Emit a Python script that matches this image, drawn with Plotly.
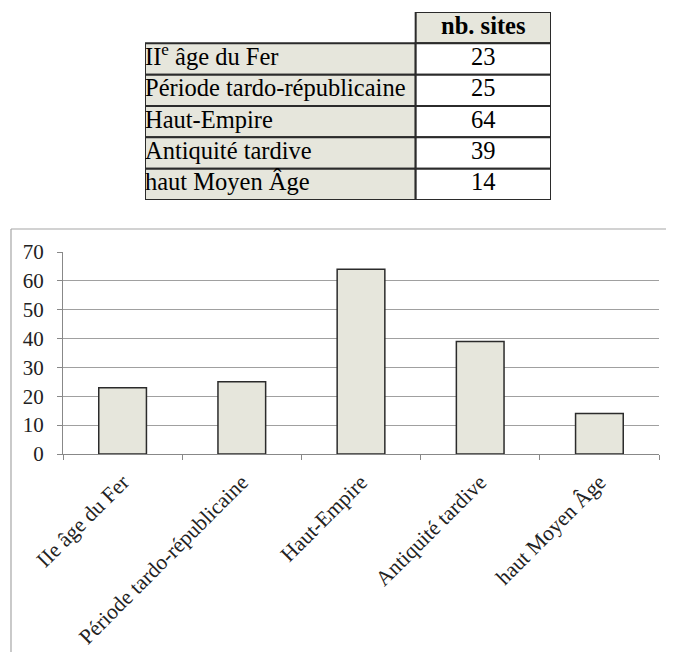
import plotly.graph_objects as go

categories_table = ["II<sup>e</sup> âge du Fer", "Période tardo-républicaine", "Haut-Empire",
                    "Antiquité tardive", "haut Moyen Âge"]
categories_axis = ["IIe âge du Fer", "Période tardo-républicaine", "Haut-Empire",
                   "Antiquité tardive", "haut Moyen Âge"]
nb_sites = [23, 25, 64, 39, 14]
header_label = "nb. sites"
y_ticks = [0, 10, 20, 30, 40, 50, 60, 70]

# page offset (browser body margin)
OFF = 8
W, H = 674 - OFF, 652 - OFF
FILL = "#e6e6dc"
EDGE = "#2b2b2b"
SERIF = "Liberation Serif"


def px(x):
    return (x - OFF) / W


def py(y):
    return 1 - (y - OFF) / H


fig = go.Figure()

# ---------------- Table (drawn on its own hidden axes) ----------------
rows = list(range(1, len(categories_table) + 1))
LABEL_W, VALUE_W = 2, 1

# label column cells
fig.add_trace(go.Bar(
    orientation="h", y=rows, x=[LABEL_W] * len(rows), base=0, width=1,
    marker=dict(color=FILL, line=dict(color=EDGE, width=2)),
    xaxis="x2", yaxis="y2", hoverinfo="skip",
))
# value column cells (header + values)
fig.add_trace(go.Bar(
    orientation="h", y=[0] + rows, x=[VALUE_W] * (len(rows) + 1), base=LABEL_W, width=1,
    marker=dict(color=[FILL] + ["white"] * len(rows), line=dict(color=EDGE, width=2)),
    xaxis="x2", yaxis="y2", hoverinfo="skip",
))
# texts
fig.add_trace(go.Scatter(
    x=[0] * len(rows), y=rows, mode="text", text=categories_table,
    textposition="middle right",
    textfont=dict(family=SERIF, size=24.5, color="black"),
    xaxis="x2", yaxis="y2", hoverinfo="skip",
))
fig.add_trace(go.Scatter(
    x=[LABEL_W + VALUE_W / 2] * (len(rows) + 1), y=[0] + rows, mode="text",
    text=["<b>" + header_label + "</b>"] + [str(v) for v in nb_sites],
    textposition="middle center",
    textfont=dict(family=SERIF, size=24.5, color="black"),
    xaxis="x2", yaxis="y2", hoverinfo="skip",
))

# ---------------- Bar chart ----------------
fig.add_trace(go.Bar(
    x=categories_axis, y=nb_sites,
    marker=dict(color=FILL, line=dict(color=EDGE, width=1.5)),
    width=0.4,
    hoverinfo="x+y",
))

# chart frame (top and left edges)
fig.add_shape(type="line", xref="paper", yref="paper",
              x0=px(11), x1=1.0, y0=py(229), y1=py(229),
              line=dict(color="#a6a6a6", width=1.2))
fig.add_shape(type="line", xref="paper", yref="paper",
              x0=px(11), x1=px(11), y0=0, y1=py(229),
              line=dict(color="#a6a6a6", width=1.2))

fig.update_layout(
    width=W, height=H,
    margin=dict(l=0, r=0, t=0, b=0),
    paper_bgcolor="white", plot_bgcolor="white",
    showlegend=False,
    barmode="overlay",
    font=dict(family=SERIF, color="#222"),
    xaxis=dict(
        domain=[px(63), px(659)],
        type="category",
        tickson="boundaries",
        ticks="outside", ticklen=5, tickcolor="#888",
        showline=True, linecolor="#888", linewidth=1.2,
        showgrid=False,
        tickangle=-45,
        tickfont=dict(family=SERIF, size=21.5, color="#222"),
        ticklabelstandoff=6,
        automargin=False,
        fixedrange=True,
    ),
    yaxis=dict(
        domain=[py(454), py(252)],
        range=[0, 70], tickvals=y_ticks,
        ticks="outside", ticklen=5, tickcolor="#888",
        showline=True, linecolor="#888", linewidth=1.2,
        showgrid=True, gridcolor="#a0a0a0", gridwidth=1.2,
        zeroline=False,
        tickfont=dict(family=SERIF, size=21, color="#222"),
        ticklabelstandoff=9,
        automargin=False,
        fixedrange=True,
    ),
    xaxis2=dict(
        domain=[px(145), px(551)], range=[0, LABEL_W + VALUE_W],
        visible=False, fixedrange=True, anchor="y2",
    ),
    yaxis2=dict(
        domain=[py(200), py(12)], range=[len(rows) + 0.5, -0.5],
        visible=False, fixedrange=True, anchor="x2",
    ),
)

fig.write_html("out.html")
